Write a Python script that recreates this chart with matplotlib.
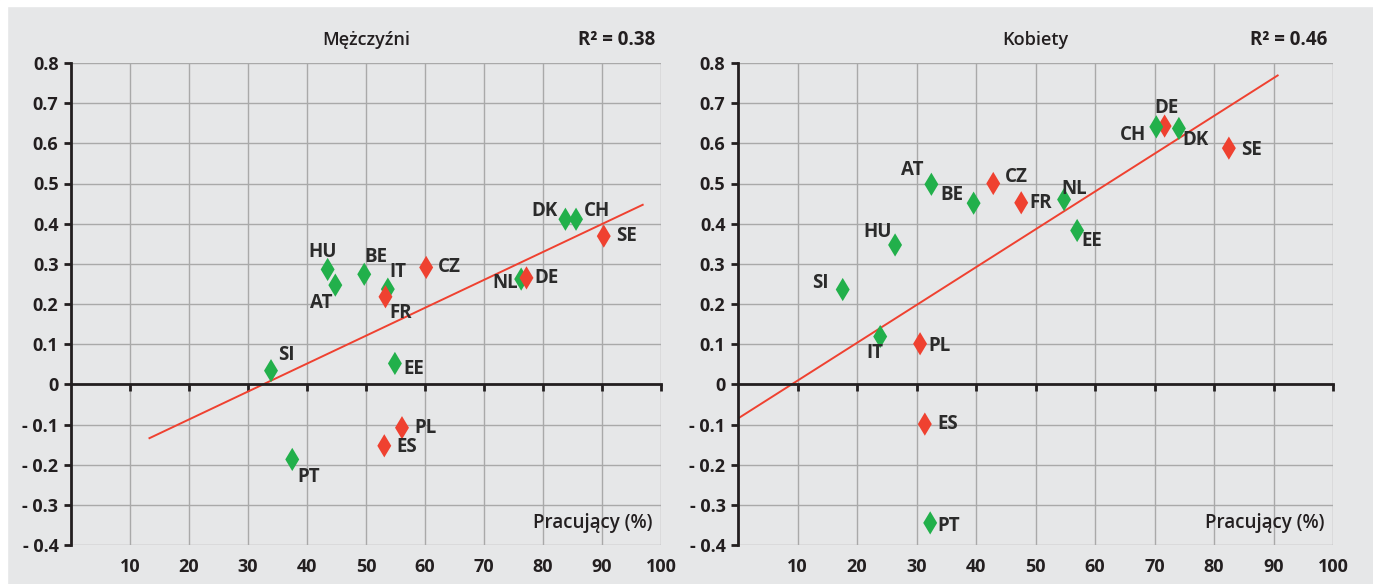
import matplotlib
matplotlib.use("Agg")
import matplotlib.pyplot as plt
from matplotlib.patches import Rectangle
from matplotlib.ticker import FuncFormatter

plt.rcParams['font.family'] = ['Open Sans', 'DejaVu Sans']

# Mężczyźni
m_codes = ['SI', 'HU', 'AT', 'BE', 'IT', 'FR', 'CZ', 'EE', 'NL', 'DE', 'DK', 'CH', 'SE', 'PL', 'ES', 'PT']
m_x = [33.9, 43.5, 44.8, 49.7, 53.7, 53.3, 60.2, 54.9, 76.3, 77.2, 83.8, 85.6, 90.3, 56.1, 53.1, 37.5]
m_y = [0.034, 0.286, 0.247, 0.274, 0.237, 0.218, 0.291, 0.052, 0.262, 0.265, 0.411, 0.411, 0.369, -0.108, -0.153, -0.187]
m_red = ['FR', 'CZ', 'DE', 'SE', 'PL', 'ES']
m_trend_x = [13.3, 96.9]
m_trend_y = [-0.134, 0.447]
m_r2 = '0.38'

# Kobiety
k_codes = ['DE', 'CH', 'DK', 'SE', 'AT', 'CZ', 'BE', 'FR', 'NL', 'EE', 'HU', 'SI', 'IT', 'PL', 'ES', 'PT']
k_x = [71.7, 70.3, 74.1, 82.5, 32.5, 42.9, 39.6, 47.6, 54.8, 57.0, 26.4, 17.6, 23.9, 30.6, 31.4, 32.3]
k_y = [0.643, 0.641, 0.637, 0.588, 0.498, 0.500, 0.451, 0.452, 0.460, 0.383, 0.347, 0.236, 0.119, 0.101, -0.099, -0.345]
k_red = ['DE', 'CZ', 'SE', 'FR', 'PL', 'ES']
k_trend_x = [0, 90.7]
k_trend_y = [-0.085, 0.769]
k_r2 = '0.46'

x_ticks = [10, 20, 30, 40, 50, 60, 70, 80, 90, 100]
y_ticks = [-0.4, -0.3, -0.2, -0.1, 0, 0.1, 0.2, 0.3, 0.4, 0.5, 0.6, 0.7, 0.8]

# label offsets in pixels (dx, dy, ha, va)
m_off = {'SI': (7, 6, 'left', 'bottom'), 'HU': (-5, 7, 'center', 'bottom'),
         'AT': (-3, -8, 'right', 'top'), 'BE': (0, 7, 'left', 'bottom'),
         'IT': (2, 7, 'left', 'bottom'), 'FR': (4, -6, 'left', 'top'),
         'CZ': (12, 0, 'left', 'center'), 'EE': (8, -6, 'left', 'center'),
         'NL': (-3, -4, 'right', 'center'), 'DE': (8, 0, 'left', 'center'),
         'DK': (-8, 8, 'right', 'center'), 'CH': (8, 8, 'left', 'center'),
         'SE': (12, 0, 'left', 'center'), 'PL': (12, 0, 'left', 'center'),
         'ES': (12, -1, 'left', 'center'), 'PT': (5, -8, 'left', 'top')}
k_off = {'DE': (2, 8, 'center', 'bottom'), 'CH': (-10, -8, 'right', 'center'),
         'DK': (3, -12, 'left', 'center'), 'SE': (12, -2, 'left', 'center'),
         'AT': (-8, 14, 'right', 'center'), 'CZ': (12, 6, 'left', 'center'),
         'BE': (-10, 8, 'right', 'center'), 'FR': (8, 0, 'left', 'center'),
         'NL': (-3, 11, 'left', 'center'), 'EE': (4, -11, 'left', 'center'),
         'HU': (-3, 13, 'right', 'center'), 'SI': (-14, 7, 'right', 'center'),
         'IT': (3, -16, 'right', 'center'), 'PL': (8, -2, 'left', 'center'),
         'ES': (13, 0, 'left', 'center'), 'PT': (7, -3, 'left', 'center')}

GREEN = '#22b04b'
RED = '#ef4130'
BG = '#e6e7e8'
GRID = '#a9a9a9'
TXT = '#231f20'

fig = plt.figure(figsize=(13.73, 5.84), dpi=100)
fig.patch.set_facecolor(BG)
fig.add_artist(Rectangle((0, 1 - 6 / 584), 1, 6 / 584, transform=fig.transFigure, color='white', zorder=0))
fig.add_artist(Rectangle((0, 0), 7 / 1373, 1, transform=fig.transFigure, color='white', zorder=0))


def yfmt(v, pos):
    if abs(v) < 1e-9:
        return '0'
    if v < 0:
        return '- %.1f' % abs(v)
    return '%.1f' % v


def panel(rect, title, r2, codes, xs, ys, reds, tx, ty, offs):
    ax = fig.add_axes(rect)
    ax.set_facecolor(BG)
    ax.set_xlim(0, 100)
    ax.set_ylim(-0.4, 0.8)
    ax.set_xticks(x_ticks)
    ax.set_yticks(y_ticks)
    ax.grid(True, color=GRID, lw=1)
    ax.set_axisbelow(True)
    for s in ['top', 'right']:
        ax.spines[s].set_visible(False)
    ax.spines['left'].set_linewidth(2)
    ax.spines['left'].set_color(TXT)
    ax.spines['bottom'].set_position(('data', 0))
    ax.spines['bottom'].set_linewidth(2)
    ax.spines['bottom'].set_color(TXT)
    ax.tick_params(axis='x', direction='out', length=5, width=2, color=TXT, labelbottom=False)
    ax.tick_params(axis='y', direction='out', length=5, width=2, color=TXT,
                   labelsize=13, labelcolor=TXT, pad=4)
    ax.yaxis.set_major_formatter(FuncFormatter(yfmt))
    for lab in ax.get_yticklabels():
        lab.set_fontweight('bold')

    sec = ax.secondary_xaxis('bottom')
    sec.set_xticks(x_ticks)
    sec.spines['bottom'].set_visible(False)
    sec.tick_params(length=0, pad=9, labelsize=13, labelcolor=TXT)
    for lab in sec.get_xticklabels():
        lab.set_fontweight('bold')

    ax.plot(tx, ty, color=RED, lw=1.4, zorder=2)
    cols = [RED if c in reds else GREEN for c in codes]
    ax.scatter(xs, ys, marker='d', s=140, c=cols, linewidths=0, zorder=3)
    for c, x, y in zip(codes, xs, ys):
        dx, dy, ha, va = offs[c]
        ax.annotate(c, (x, y), xytext=(dx, dy), textcoords='offset pixels',
                    ha=ha, va=va, fontsize=13.5, fontweight='bold', color='#2b2b2b', zorder=4)

    ax.text(0.5, 1.048, title, transform=ax.transAxes, ha='center', va='center',
            fontsize=13, fontweight='semibold', color=TXT)
    ax.text(0.99, 1.048, 'R² = ' + r2, transform=ax.transAxes, ha='right', va='center',
            fontsize=13.5, fontweight='bold', color=TXT)
    ax.text(0.985, 0.045, 'Pracujący (%)', transform=ax.transAxes, ha='right', va='center',
            fontsize=13.5, fontweight='semibold', color=TXT)
    return ax


panel([71 / 1373, 39 / 584, 590 / 1373, 482 / 584], 'Mężczyźni', m_r2,
      m_codes, m_x, m_y, m_red, m_trend_x, m_trend_y, m_off)
panel([738 / 1373, 39 / 584, 595 / 1373, 482 / 584], 'Kobiety', k_r2,
      k_codes, k_x, k_y, k_red, k_trend_x, k_trend_y, k_off)

fig.savefig('out.png', dpi=100, facecolor=fig.get_facecolor())
